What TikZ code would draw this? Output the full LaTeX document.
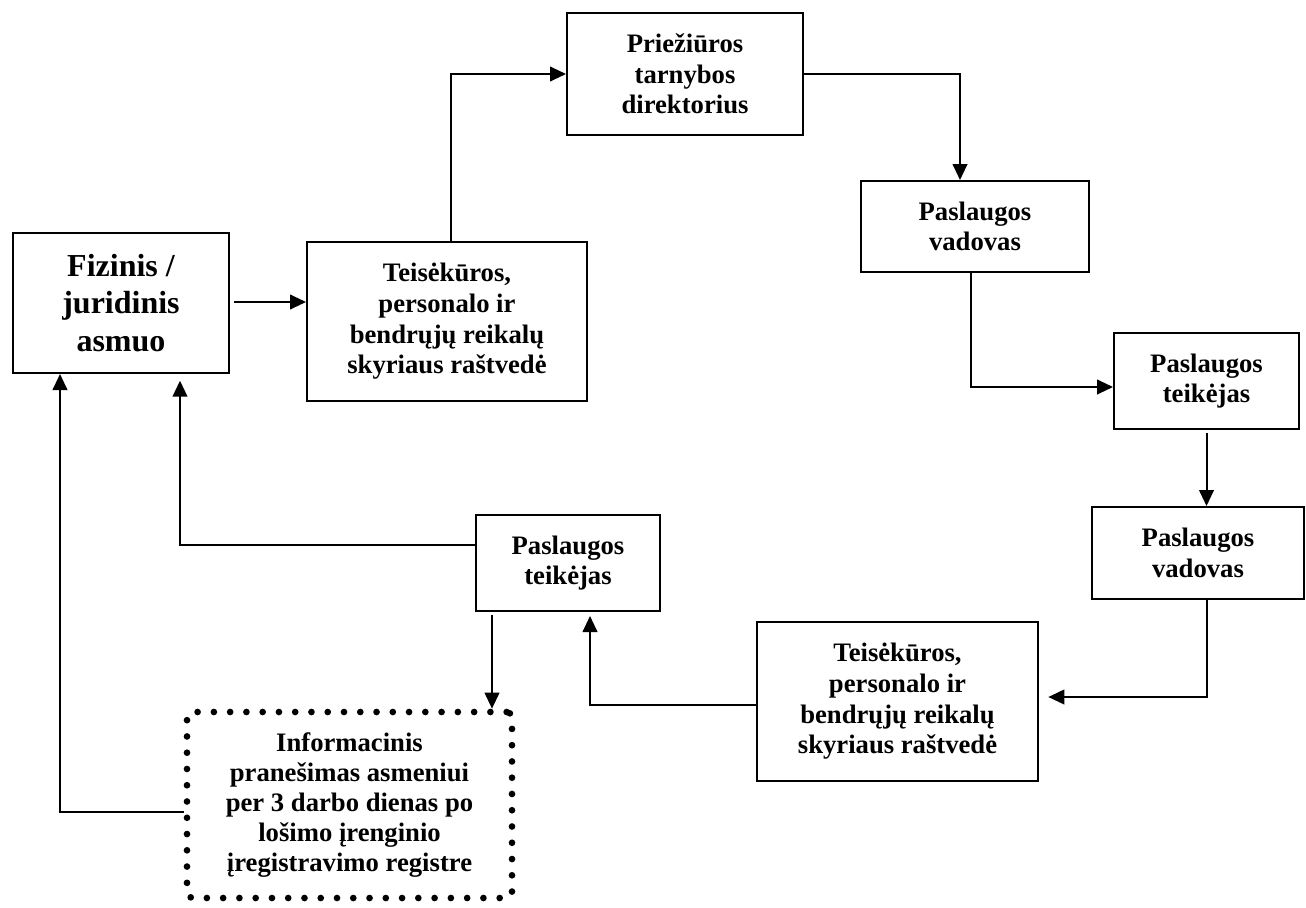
\documentclass[tikz,border=0pt]{standalone}
\usepackage{fontspec}
\setmainfont{Liberation Serif}
\usetikzlibrary{arrows.meta,calc}
\tikzset{
  box/.style={draw, line width=1.5pt, inner sep=0pt, align=center,
    font=\bfseries\fontsize{20}{23}\selectfont},
  dotbox/.style={draw, line width=5pt, line cap=round, dash pattern=on 0pt off 12.2pt,
    rounded corners=4pt, inner sep=0pt, align=center,
    font=\bfseries\fontsize{20}{22.5}\selectfont},
  arr/.style={line width=1.5pt, -{Triangle[length=12pt,width=11pt]}}
}
\begin{document}
\begin{tikzpicture}[x=0.75pt,y=-0.75pt]
\useasboundingbox (0,0) rectangle (1306,907);
\node[box, minimum width=162pt, minimum height=105pt, font=\bfseries\fontsize{24}{28}\selectfont] (A) at (121,303) {Fizinis /\\juridinis\\asmuo};
\node[box, minimum width=210pt, minimum height=119.25pt] (B) at (447,321.5) {Teisėkūros,\\personalo ir\\bendrųjų reikalų\\skyriaus raštvedė};
\node[box, minimum width=177pt, minimum height=91.5pt] (P) at (685,74) {Priežiūros\\tarnybos\\direktorius};
\node[box, minimum width=171pt, minimum height=68.25pt] (PV1) at (975,226.5) {Paslaugos\\vadovas};
\node[box, minimum width=138.75pt, minimum height=72pt] (PT1) at (1206.5,381) {Paslaugos\\teikėjas};
\node[box, minimum width=159pt, minimum height=69pt] (PV2) at (1198,553) {Paslaugos\\vadovas};
\node[box, minimum width=210.75pt, minimum height=119.25pt] (T2) at (897.5,701.5) {Teisėkūros,\\personalo ir\\bendrųjų reikalų\\skyriaus raštvedė};
\node[box, minimum width=138pt, minimum height=72pt] (PT2) at (568,563) {Paslaugos\\teikėjas};
\node[dotbox, minimum width=243.75pt, minimum height=139.5pt] (D) at (349.5,805) {Informacinis\\pranešimas asmeniui\\per 3 darbo dienas po\\lošimo įrenginio\\įregistravimo registre};

\coordinate (ptout) at ($(PT2.south)+(-76,0)$);
\coordinate (din) at (ptout |- D.north);

% connectors
\draw[arr, shorten <=3pt] ($(A.east)+(0,-1)$) -- ($(A.east -| B.west)+(0,-1)$);
\draw[arr] ($(B.north)+(4,0)$) |- (P.west);
\draw[arr] (P.east) -| ($(PV1.north)+(-15,0)$);
\draw[arr] ($(PV1.south)+(-4,0)$) |- ($(PT1.west)+(0,6)$);
\draw[arr, shorten <=2pt] (PT1.south) -- (PT1.south |- PV2.north);
\draw[arr, shorten >=7pt] (PV2.south -| PT1.south) |- ($(T2.east)+(0,-4.5)$);
\draw[arr, shorten >=3pt] ($(T2.west)+(0,3.5)$) -| ($(PT2.south)+(22,0)$);
\draw[arr, shorten <=2pt] (ptout) -- (din);
\draw[arr, shorten >=5pt] ($(PT2.west)+(0,-18)$) -| ($(A.south)+(59,0)$);
\draw[arr] ($(D.west)+(0,7)$) -| ($(A.south)+(-61,0)$);
\end{tikzpicture}
\end{document}
